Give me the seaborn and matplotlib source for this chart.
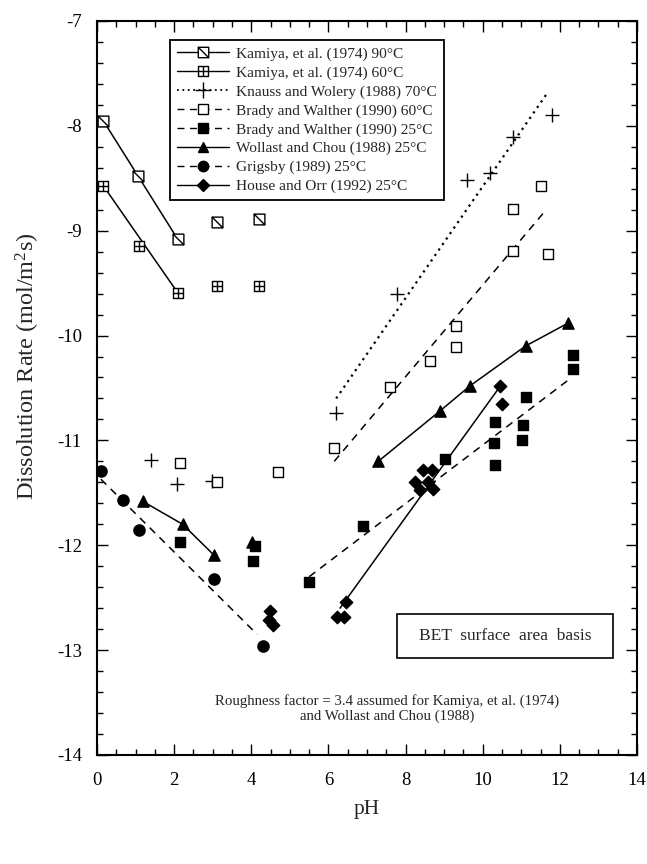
import numpy as np
import matplotlib
matplotlib.use("Agg")
import matplotlib.pyplot as plt
import seaborn as sns
from matplotlib.path import Path
from matplotlib.lines import Line2D
from matplotlib.patches import Rectangle
from matplotlib.ticker import MultipleLocator

# ---------------- data ----------------
kam90_ph = [0.16, 1.07, 2.09, 3.10, 4.20]
kam90_rate = [-7.95, -8.48, -9.08, -8.92, -8.89]
kam90_line_ph = [0.16, 2.09]
kam90_line_rate = [-7.95, -9.08]

kam60_ph = [0.16, 1.10, 2.09, 3.10, 4.20]
kam60_rate = [-8.57, -9.15, -9.59, -9.53, -9.53]
kam60_line_ph = [0.16, 2.09]
kam60_line_rate = [-8.57, -9.59]

knauss_ph = [1.39, 2.08, 2.97, 6.20, 7.79, 9.58, 10.19, 10.79, 11.80]
knauss_rate = [-11.19, -11.42, -11.39, -10.74, -9.60, -8.52, -8.45, -8.11, -7.90]
knauss_line_ph = [6.20, 11.65]
knauss_line_rate = [-10.60, -7.70]

bw60_ph = [2.15, 3.10, 4.70, 6.15, 7.60, 8.63, 9.30, 9.30, 10.79, 10.79, 11.51, 11.70]
bw60_rate = [-11.22, -11.40, -11.30, -11.07, -10.49, -10.24, -9.91, -10.11, -8.79, -9.19, -8.57, -9.22]
bw60_line_ph = [6.15, 11.60]
bw60_line_rate = [-11.20, -8.82]

bw25_ph = [2.15, 4.04, 4.10, 5.50, 6.90, 9.02, 10.30, 10.32, 10.32, 11.03, 11.05, 11.12, 12.33, 12.33]
bw25_rate = [-11.97, -12.15, -12.01, -12.35, -11.82, -11.18, -11.02, -10.82, -11.23, -11.00, -10.85, -10.59, -10.19, -10.32]
bw25_line_ph = [5.50, 12.20]
bw25_line_rate = [-12.30, -10.43]

wc_ph = [1.18, 2.22, 3.02, 4.01, 7.29, 8.89, 9.67, 11.11, 12.22]
wc_rate = [-11.58, -11.80, -12.09, -11.97, -11.20, -10.72, -10.48, -10.10, -9.88]
wc_line1_ph = [1.18, 2.22, 3.02]
wc_line1_rate = [-11.58, -11.80, -12.09]
wc_line2_ph = [7.29, 8.89, 9.67, 11.11, 12.22]
wc_line2_rate = [-11.20, -10.72, -10.48, -10.10, -9.88]

grig_ph = [0.10, 0.66, 1.09, 3.02, 4.31]
grig_rate = [-11.29, -11.57, -11.85, -12.32, -12.96]
grig_line_ph = [0.10, 4.15]
grig_line_rate = [-11.37, -12.85]

ho_ph = [4.49, 4.47, 4.55, 6.21, 6.40, 6.46, 8.25, 8.37, 8.46, 8.59, 8.68, 8.72, 10.46, 10.49]
ho_rate = [-12.63, -12.71, -12.76, -12.68, -12.68, -12.54, -11.40, -11.47, -11.28, -11.40, -11.28, -11.46, -10.48, -10.65]
ho_line_ph = [6.30, 10.46]
ho_line_rate = [-12.60, -10.48]

labels = [
    "Kamiya, et al. (1974) 90°C",
    "Kamiya, et al. (1974) 60°C",
    "Knauss and Wolery (1988) 70°C",
    "Brady and Walther (1990) 60°C",
    "Brady and Walther (1990) 25°C",
    "Wollast and Chou (1988) 25°C",
    "Grigsby (1989) 25°C",
    "House and Orr (1992) 25°C",
]

# ---------------- style ----------------
sns.set_style("ticks")
plt.rcParams["font.family"] = ["Liberation Serif", "DejaVu Serif"]
plt.rcParams["mathtext.fontset"] = "custom"
plt.rcParams["mathtext.rm"] = "Liberation Serif"
plt.rcParams["mathtext.it"] = "Liberation Serif"
plt.rcParams["axes.unicode_minus"] = False

# custom markers
sq_slash = Path([(-1, -1), (1, -1), (1, 1), (-1, 1), (-1, -1), (-1, 1), (1, -1)],
                [Path.MOVETO, Path.LINETO, Path.LINETO, Path.LINETO, Path.CLOSEPOLY,
                 Path.MOVETO, Path.LINETO])
sq_plus = Path([(-1, -1), (1, -1), (1, 1), (-1, 1), (-1, -1), (-1, 0), (1, 0), (0, -1), (0, 1)],
               [Path.MOVETO, Path.LINETO, Path.LINETO, Path.LINETO, Path.CLOSEPOLY,
                Path.MOVETO, Path.LINETO, Path.MOVETO, Path.LINETO])

DASH = (0, (5, 4))
DOT = (0, (1, 2))

fig = plt.figure(figsize=(6.47, 8.64), dpi=100)
ax = fig.add_axes([0.150, 0.1262, 0.8345, 0.8495])

def line(xs, ys, ls, lw=1.1):
    sns.lineplot(x=xs, y=ys, ax=ax, color="black", linestyle=ls, linewidth=lw,
                 sort=False, estimator=None, legend=False)

line(kam90_line_ph, kam90_line_rate, "-")
line(kam60_line_ph, kam60_line_rate, "-")
line(knauss_line_ph, knauss_line_rate, DOT, 1.6)
line(bw60_line_ph, bw60_line_rate, DASH)
line(bw25_line_ph, bw25_line_rate, DASH)
line(wc_line1_ph, wc_line1_rate, "-")
line(wc_line2_ph, wc_line2_rate, "-")
line(grig_line_ph, grig_line_rate, DASH)
line(ho_line_ph, ho_line_rate, "-")

def pts(xs, ys, marker, s, face, lw=1.0):
    sns.scatterplot(x=xs, y=ys, ax=ax, marker=marker, s=s, color=face,
                    edgecolor="black", linewidth=lw, legend=False, zorder=3)

pts(kam90_ph, kam90_rate, sq_slash, 60, "white")
pts(kam60_ph, kam60_rate, sq_plus, 60, "white")
sns.scatterplot(x=knauss_ph, y=knauss_rate, ax=ax, marker="+", s=110, color="black",
                linewidth=1.0, legend=False, zorder=3)
pts(bw60_ph, bw60_rate, "s", 60, "white")
pts(bw25_ph, bw25_rate, "s", 60, "black")
pts(wc_ph, wc_rate, "^", 65, "black")
pts(grig_ph, grig_rate, "o", 65, "black")
pts(ho_ph, ho_rate, "D", 40, "black")

# ---------------- axes ----------------
ax.set_xlim(0, 14)
ax.set_ylim(-14, -7)
ax.xaxis.set_major_locator(MultipleLocator(2))
ax.xaxis.set_minor_locator(MultipleLocator(0.5))
ax.yaxis.set_major_locator(MultipleLocator(1))
ax.yaxis.set_minor_locator(MultipleLocator(0.2))
ax.tick_params(which="both", direction="in", top=True, right=True, width=1.0, colors="black")
ax.tick_params(which="major", length=8, labelsize=13.5)
ax.tick_params(axis="x", which="major", pad=12)
ax.tick_params(axis="y", which="major", pad=11)
ax.tick_params(which="minor", length=4)
for sp in ax.spines.values():
    sp.set_visible(True)
    sp.set_linewidth(1.5)
    sp.set_color("black")

ax.set_xlabel("pH", fontsize=15.5, labelpad=8)
ax.set_ylabel("Dissolution Rate (mol/m$^2$s)", fontsize=17.5)
ax.yaxis.set_label_coords(-0.102, 0.53)

# ---------------- legend ----------------
handles = [
    Line2D([], [], color="black", ls="-", lw=1.0, marker=sq_slash, ms=7.5, mfc="white", mec="black"),
    Line2D([], [], color="black", ls="-", lw=1.0, marker=sq_plus, ms=7.5, mfc="white", mec="black"),
    Line2D([], [], color="black", ls=DOT, lw=1.3, marker="+", ms=11, mec="black"),
    Line2D([], [], color="black", ls=DASH, lw=1.0, marker="s", ms=7.5, mfc="white", mec="black"),
    Line2D([], [], color="black", ls=DASH, lw=1.0, marker="s", ms=7.5, mfc="black", mec="black"),
    Line2D([], [], color="black", ls="-", lw=1.0, marker="^", ms=7.5, mfc="black", mec="black"),
    Line2D([], [], color="black", ls=DASH, lw=1.0, marker="o", ms=7.5, mfc="black", mec="black"),
    Line2D([], [], color="black", ls="-", lw=1.0, marker="D", ms=6, mfc="black", mec="black"),
]
leg = ax.legend(handles, labels, loc="upper left", bbox_to_anchor=(0.135, 0.974),
                borderaxespad=0, fontsize=11.1, handlelength=3.4, handletextpad=0.45,
                labelspacing=0.32, borderpad=0.45, fancybox=False, framealpha=1,
                edgecolor="black", numpoints=1)
leg.get_frame().set_linewidth(1.3)

# ---------------- annotations ----------------
ax.add_patch(Rectangle((0.5556, 0.1322), 0.40, 0.06, transform=ax.transAxes,
                       facecolor="white", edgecolor="black", linewidth=1.2, zorder=4))
ax.text(0.7556, 0.1622, "BET  surface  area  basis", transform=ax.transAxes,
        ha="center", va="center", fontsize=12.5, zorder=5)
ax.text(0.537, 0.063, "Roughness factor = 3.4 assumed for Kamiya, et al. (1974)\nand Wollast and Chou (1988)",
        transform=ax.transAxes, ha="center", va="center", fontsize=10.7, linespacing=1.15)

fig.savefig("out.png", dpi=100)
